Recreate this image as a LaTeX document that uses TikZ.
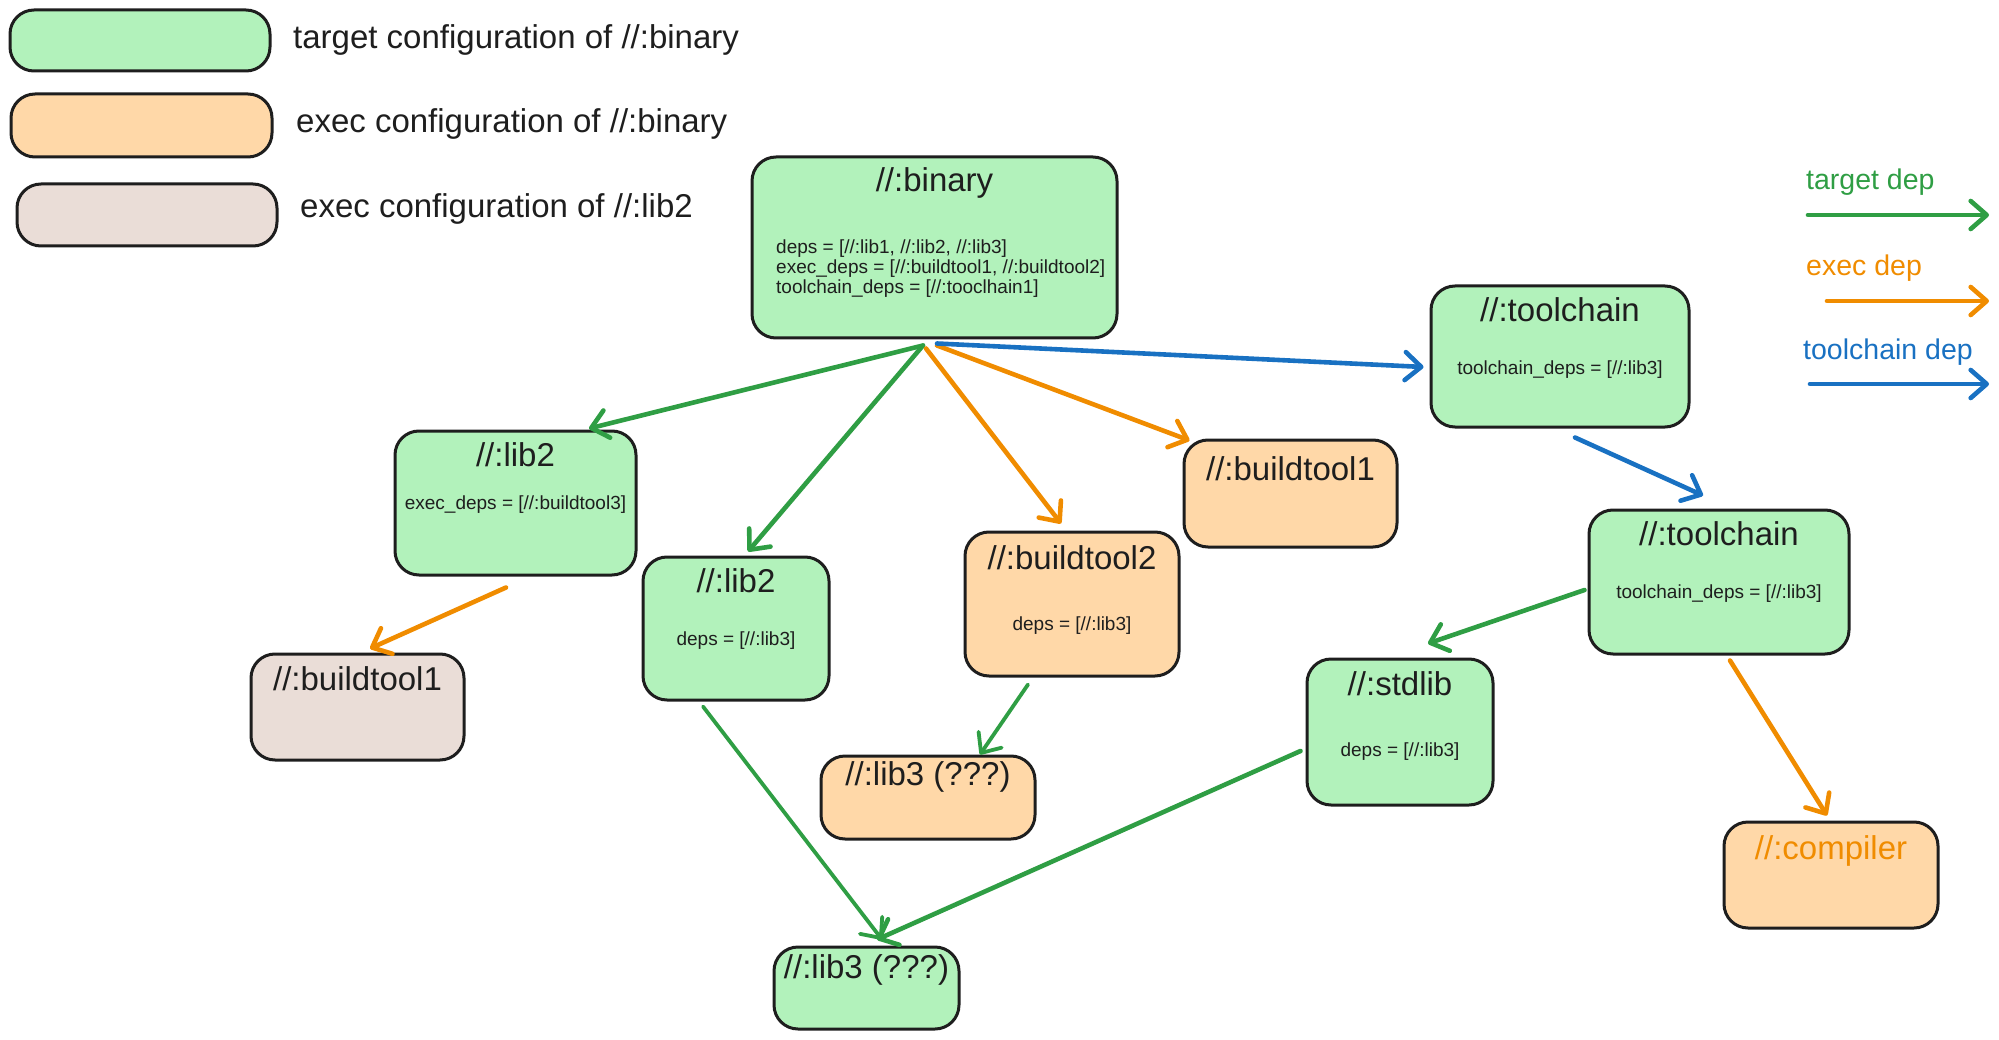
\documentclass[tikz,border=0pt]{standalone}
\usepackage{fontspec}
\setmainfont{Liberation Sans}
\usetikzlibrary{arrows.meta,calc}
\definecolor{gfill}{HTML}{B2F2BB}
\definecolor{ofill}{HTML}{FFD8A8}
\definecolor{bfill}{HTML}{EADDD7}
\definecolor{gline}{HTML}{2F9E44}
\definecolor{oline}{HTML}{F08C00}
\definecolor{bline}{HTML}{1971C2}
\definecolor{ink}{HTML}{1E1E1E}
\tikzset{
  box/.style={draw=ink, line width=3pt, rounded corners=24pt, inner sep=0pt},
  gbox/.style={box, fill=gfill},
  obox/.style={box, fill=ofill},
  bbox/.style={box, fill=bfill},
  ttl/.style={inner sep=0pt, text=ink, font=\fontsize{33}{38}\selectfont},
  body/.style={inner sep=0pt, text=ink, font=\fontsize{19}{20}\selectfont, align=left},
  legtxt/.style={inner sep=0pt, anchor=west, font=\fontsize{33}{38}\selectfont},
  keytxt/.style={inner sep=0pt, anchor=west, font=\fontsize{28.5}{34}\selectfont},
  dep/.style={line width=4.6pt, line cap=round, -{Straight Barb[length=16pt,width=28pt,line cap=round,line join=round]}},
  tdep/.style={dep, draw=gline},
  edep/.style={dep, draw=oline},
  cdep/.style={dep, draw=bline},
}
\newcommand{\bx}[6]{\node[#1, minimum width=#4pt-#2pt, minimum height=#5pt-#3pt] (#6) at ({(#2+#4)/2},{(#3+#5)/2}) {};}
\begin{document}
\begin{tikzpicture}[x=1pt,y=-1pt]
\useasboundingbox (0,0) rectangle (1999,1040);
% legend boxes
\bx{gbox}{10}{10}{270}{71}{leg1}
\bx{obox}{11}{94}{272}{157}{leg2}
\bx{bbox}{17}{184}{277}{246}{leg3}
\node[legtxt, text=ink] (leg1t) at (293,40) {target configuration of //:binary};
\node[legtxt, text=ink] (leg2t) at (296,124) {exec configuration of //:binary};
\node[legtxt, text=ink] (leg3t) at (300,209) {exec configuration of //:lib2};
% right legend
\node[keytxt, text=gline] (kt) at (1806,182) {target dep};
\node[keytxt, text=oline] (ke) at (1806,268) {exec dep};
\node[keytxt, text=bline] (kc) at (1803,352) {toolchain dep};
\coordinate (kt1) at (1808,215); \coordinate (kt2) at (1989,215);
\coordinate (ke1) at (1827,301); \coordinate (ke2) at (1989,301);
\coordinate (kc1) at (1810,384); \coordinate (kc2) at (1989,384);
\draw[tdep] (kt1) -- (kt2);
\draw[edep] (ke1) -- (ke2);
\draw[cdep] (kc1) -- (kc2);
% boxes
\bx{gbox}{752}{157}{1117}{338}{binary}
\bx{gbox}{1431}{286}{1689}{427}{tc1}
\bx{gbox}{395}{431}{636}{575}{lib2a}
\bx{bbox}{251}{654}{464}{760}{bt1g}
\bx{gbox}{643}{557}{829}{700}{lib2b}
\bx{obox}{965}{532}{1179}{676}{bt2}
\bx{obox}{1184}{440}{1397}{547}{bt1o}
\bx{obox}{821}{756}{1035}{839}{lib3o}
\bx{gbox}{774}{947}{959}{1029}{lib3g}
\bx{gbox}{1589}{510}{1849}{654}{tc2}
\bx{gbox}{1307}{659}{1493}{805}{stdlib}
\bx{obox}{1724}{822}{1938}{928}{compiler}
% titles
\node[ttl] (binaryT) at (binary.center |- 0,183) {//:binary};
\node[ttl] (tc1T) at (tc1.center |- 0,310) {//:toolchain};
\node[ttl] (lib2aT) at (lib2a.center |- 0,455) {//:lib2};
\node[ttl] (bt1gT) at (bt1g.center |- 0,679) {//:buildtool1};
\node[ttl] (lib2bT) at (lib2b.center |- 0,581) {//:lib2};
\node[ttl] (bt2T) at (bt2.center |- 0,558) {//:buildtool2};
\node[ttl] (bt1oT) at (bt1o.center |- 0,469) {//:buildtool1};
\node[ttl] (lib3oT) at (lib3o.center |- 0,777) {//:lib3 (???)};
\node[ttl] (lib3gT) at (lib3g.center |- 0,970) {//:lib3 (???)};
\node[ttl] (tc2T) at (tc2.center |- 0,534) {//:toolchain};
\node[ttl] (stdlibT) at (stdlib.center |- 0,684) {//:stdlib};
\node[ttl, text=oline] (compilerT) at (compiler.center |- 0,851) {//:compiler};
% bodies
\node[body, anchor=west] (binaryB) at (776,269) {deps = [//:lib1, //:lib2, //:lib3]\\exec\_deps = [//:buildtool1, //:buildtool2]\\toolchain\_deps = [//:tooclhain1]};
\node[body] (tc1B) at (tc1.center |- 0,370) {toolchain\_deps = [//:lib3]};
\node[body] (lib2aB) at (lib2a.center |- 0,505) {exec\_deps = [//:buildtool3]};
\node[body] (lib2bB) at (lib2b.center |- 0,641) {deps = [//:lib3]};
\node[body] (bt2B) at (bt2.center |- 0,626) {deps = [//:lib3]};
\node[body] (tc2B) at (tc2.center |- 0,594) {toolchain\_deps = [//:lib3]};
\node[body] (stdlibB) at (stdlib.center |- 0,752) {deps = [//:lib3]};
% connectors
\draw[tdep] ($(binary.south)+(-11.5,6)$) -- ($(lib2a.north)+(73.5,-1)$);
\draw[tdep] ($(binary.south)+(-11.5,6)$) -- ($(lib2b.north)+(12,-4)$);
\draw[edep] ($(binary.south)+(-8.5,9)$) -- ($(bt2.north)+(-11,-7)$);
\draw[edep] ($(binary.south)+(2.5,6)$) -- ($(bt1o.north west)+(7,2)$);
\draw[cdep] ($(binary.south)+(2.5,4)$) -- ($(tc1.west)+(-6,10.5)$);
\draw[cdep] ($(tc1.south)+(15,9)$) -- ($(tc2.north)+(-16,-13)$);
\draw[edep] ($(lib2a.south)+(-9.5,11)$) -- ($(bt1g.north)+(12.5,-4)$);
\draw[tdep, line width=3.8pt] ($(lib2b.south)+(-33,5)$) -- ($(lib3g.north)+(15.5,-6)$);
\draw[tdep] ($(stdlib.west)+(-5,19)$) -- ($(lib3g.north)+(10.5,-6)$);
\draw[tdep, line width=3.8pt] ($(bt2.south)+(-44,7)$) -- ($(lib3o.north)+(52,0)$);
\draw[tdep] ($(tc2.west)+(-3,8)$) -- ($(stdlib.north)+(28,-14)$);
\draw[edep] ($(tc2.south)+(11,5)$) -- ($(compiler.north)+(-4,-5)$);
\end{tikzpicture}
\end{document}
